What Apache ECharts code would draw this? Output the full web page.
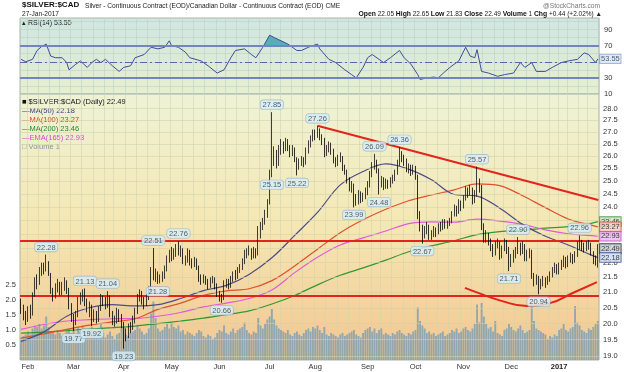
<!DOCTYPE html>
<html><head><meta charset="utf-8">
<script src="https://cdn.jsdelivr.net/npm/echarts@6/dist/echarts.min.js"></script>
<style>html,body{margin:0;padding:0;background:#fff}#c{width:624px;height:372px}</style>
</head><body><div id="c"></div>
<script>
// ---------- categories ----------
const holidays = ['2016-02-15','2016-03-25','2016-05-30','2016-07-04','2016-09-05','2016-11-24','2016-12-26','2017-01-02','2017-01-16'];
const firstDay = [2016, 0, 27], lastDay = [2017, 0, 27];
const monthNames = ['Jan','Feb','Mar','Apr','May','Jun','Jul','Aug','Sep','Oct','Nov','Dec'];
function tradingDays() {
  const out = [];
  let t = Date.UTC(firstDay[0], firstDay[1], firstDay[2]);
  const end = Date.UTC(lastDay[0], lastDay[1], lastDay[2]);
  while (t <= end) {
    const d = new Date(t), wd = d.getUTCDay(), s = d.toISOString().slice(0, 10);
    if (wd !== 0 && wd !== 6 && holidays.indexOf(s) < 0) out.push(s);
    t += 86400000;
  }
  return out;
}
const dates = tradingDays();

// ---------- daily candles [open, close, low, high] ----------
const candles = [
[20.70,20.45,20.30,20.80],[20.45,20.30,20.10,20.60],[20.30,20.15,19.95,20.40],
[20.15,20.40,20.05,20.55],[20.40,20.25,20.15,20.60],[20.30,20.90,20.25,21.00],[20.95,21.35,20.85,21.50],[21.35,21.30,21.10,21.60],
[21.30,21.70,21.25,21.85],[21.70,21.85,21.55,22.00],[21.85,21.80,21.60,22.00],[21.80,21.95,21.70,22.28],[21.95,21.75,21.55,22.05],
[21.60,21.05,20.95,21.65],[21.05,20.85,20.70,21.15],[20.85,21.10,20.80,21.30],[21.10,21.30,21.00,21.45],[21.30,21.00,20.90,21.35],
[21.00,21.20,20.90,21.35],[21.20,21.30,21.05,21.50],[21.30,21.05,20.95,21.40],[21.05,20.55,20.45,21.15],[20.55,20.15,20.05,20.65],
[20.15,20.00,19.77,20.30],[20.00,20.25,19.95,20.40],[20.25,20.75,20.20,20.85],[20.75,20.85,20.60,21.00],[20.85,20.95,20.70,21.10],
[20.95,20.70,20.55,21.13],[20.70,20.45,20.35,20.80],[20.45,20.55,20.20,20.70],[20.55,20.15,19.92,20.60],[20.15,20.30,20.05,20.45],
[20.30,20.10,20.00,20.40],[20.10,20.45,20.05,20.55],[20.45,20.80,20.40,20.95],[20.80,20.70,20.55,20.90],[20.70,20.60,20.45,20.85],
[20.60,20.85,20.50,21.04],[20.85,20.30,20.20,20.90],[20.30,20.05,19.95,20.40],[20.05,20.10,19.90,20.25],[20.10,20.35,20.00,20.50],
[20.35,20.20,20.05,20.45],[20.20,19.95,19.85,20.30],
[19.95,19.70,19.23,20.05],[19.70,19.65,19.45,19.85],[19.65,19.90,19.55,20.00],[19.90,19.85,19.70,20.05],[19.85,20.10,19.80,20.25],
[20.10,20.35,20.00,20.50],[20.35,20.80,20.30,20.95],[20.80,20.95,20.70,21.10],[20.95,20.75,20.60,21.05],[20.75,20.60,20.45,20.85],
[20.60,20.80,20.55,20.95],[20.80,21.05,20.75,21.20],[21.05,21.70,21.00,21.85],[21.70,21.55,21.40,22.51],[21.55,21.60,21.35,21.80],
[21.60,21.40,21.28,21.70],[21.40,21.45,21.30,21.60],[21.45,21.55,21.35,21.70],[21.55,21.75,21.45,21.90],[21.75,22.10,21.70,22.25],
[22.10,22.30,22.00,22.45],
[22.30,22.25,22.05,22.55],[22.25,22.35,22.10,22.50],[22.35,22.50,22.20,22.65],[22.50,22.40,22.25,22.76],[22.40,22.45,22.20,22.60],
[22.45,22.05,21.95,22.50],[22.05,22.10,21.90,22.25],[22.10,22.35,22.00,22.50],[22.35,22.00,21.90,22.45],[22.00,21.95,21.80,22.15],
[21.95,22.05,21.85,22.20],[22.05,21.85,21.75,22.15],[21.85,21.45,21.35,21.90],[21.45,21.40,21.25,21.60],[21.40,21.50,21.30,21.60],
[21.50,21.35,21.25,21.55],[21.35,21.25,21.10,21.45],[21.25,21.40,21.15,21.50],[21.40,21.45,21.30,21.55],[21.45,21.20,21.10,21.50],
[21.20,20.95,20.85,21.30],
[20.95,20.85,20.70,21.05],[20.85,20.80,20.66,20.95],[20.80,21.30,20.75,21.40],[21.30,21.35,21.15,21.45],[21.35,21.20,21.10,21.45],
[21.20,21.45,21.15,21.55],[21.45,21.60,21.35,21.70],[21.60,21.50,21.40,21.75],[21.50,21.75,21.45,21.85],[21.75,21.85,21.65,21.95],
[21.85,22.05,21.75,22.15],[22.05,22.25,21.95,22.45],[22.25,22.35,22.15,22.50],[22.35,22.45,22.25,22.60],[22.45,22.25,22.10,22.50],
[22.25,22.40,22.15,22.55],[22.40,22.30,22.15,22.50],[22.30,22.95,22.25,23.30],[22.95,23.30,22.85,23.45],[23.30,23.45,23.15,23.60],
[23.45,23.70,23.35,23.90],[23.70,24.15,23.60,24.30],
[24.15,25.30,24.10,25.45],[25.30,25.85,25.15,27.85],[25.85,26.10,25.60,26.40],[26.10,25.70,25.50,26.25],[25.70,26.20,25.60,26.45],
[26.20,26.50,26.05,26.70],[26.50,26.30,26.10,26.60],[26.30,26.60,26.20,26.75],[26.60,26.40,26.20,26.70],[26.40,26.10,25.95,26.45],
[26.10,26.30,26.00,26.45],[26.30,25.90,25.75,26.35],[25.90,25.60,25.22,25.95],[25.60,25.75,25.45,25.90],[25.75,25.85,25.60,26.00],
[25.85,25.70,25.55,25.95],[25.70,26.20,25.65,26.35],[26.20,26.50,26.10,26.65],[26.50,26.70,26.35,26.85],[26.70,26.95,26.60,27.10],
[26.95,26.85,26.65,27.10],[26.85,27.05,26.75,27.26],[27.05,26.80,26.65,27.15],[26.80,26.65,26.45,26.90],[26.65,26.10,25.95,26.75],
[26.10,26.30,26.00,26.45],[26.30,26.45,26.15,26.60],[26.45,26.20,26.05,26.55],[26.20,25.85,25.70,26.30],[25.85,25.70,25.55,25.95],
[25.70,25.90,25.60,26.05],[25.90,25.95,25.75,26.15],[25.95,25.55,25.40,26.00],[25.55,25.40,25.25,25.65],[25.40,25.05,24.90,25.45],
[25.05,24.75,24.60,25.15],[24.75,24.85,24.55,25.00],[24.85,24.35,23.99,24.90],[24.35,24.20,24.05,24.50],[24.20,24.50,24.10,24.65],
[24.50,24.30,24.15,24.60],[24.30,24.40,24.20,24.55],[24.40,24.60,24.30,24.75],
[24.60,24.85,24.45,25.00],[24.85,25.25,24.75,25.40],[25.25,25.60,25.15,25.75],[25.60,25.75,25.45,26.09],[25.75,25.45,25.30,25.85],
[25.45,24.90,24.48,25.50],[24.90,25.05,24.75,25.20],[25.05,24.80,24.65,25.15],[24.80,24.95,24.70,25.10],[24.95,24.85,24.70,25.05],
[24.85,25.00,24.75,25.15],[25.00,25.10,24.90,25.25],[25.10,25.30,25.00,25.45],[25.30,25.70,25.25,25.85],[25.70,26.05,25.60,26.36],
[26.05,25.95,25.75,26.20],[25.95,25.80,25.60,26.05],[25.80,25.45,25.35,25.90],[25.45,25.55,25.30,25.70],[25.55,25.35,25.20,25.65],
[25.35,25.50,25.25,25.65],
[25.50,25.20,25.05,25.60],[25.20,23.70,23.55,25.25],[23.70,23.25,23.10,23.85],[23.25,23.05,22.67,23.35],[23.05,23.10,22.85,23.30],
[23.10,23.30,23.00,23.45],[23.30,22.95,22.80,23.35],[22.95,23.00,22.80,23.15],[23.00,23.15,22.90,23.30],[23.15,23.05,22.90,23.25],
[23.05,23.30,23.00,23.40],[23.30,23.25,23.10,23.45],[23.25,23.45,23.15,23.55],[23.45,23.35,23.20,23.55],[23.35,23.40,23.20,23.50],
[23.40,23.45,23.30,23.60],[23.45,23.70,23.40,23.85],[23.70,23.95,23.65,24.10],[23.95,23.80,23.65,24.05],[23.80,24.15,23.75,24.30],
[24.15,24.00,23.85,24.25],
[24.00,24.30,23.95,24.45],[24.30,24.60,24.25,24.80],[24.60,24.55,24.35,24.75],[24.55,24.70,24.45,24.85],[24.70,24.25,24.10,24.75],
[24.25,24.50,24.15,24.65],[24.50,24.90,24.40,25.57],[24.90,24.80,24.55,25.10],[24.80,23.30,23.15,24.85],[23.30,22.85,22.70,23.40],
[22.85,23.00,22.70,23.15],[23.00,22.75,22.60,23.05],[22.75,22.55,22.40,22.85],[22.55,22.35,22.20,22.65],[22.35,22.60,22.25,22.75],
[22.60,22.70,22.50,22.85],[22.70,22.25,22.10,22.75],[22.25,22.50,22.15,22.60],[22.50,22.70,22.40,22.85],[22.70,22.45,22.30,22.80],
[22.45,22.05,21.71,22.55],
[22.05,22.10,21.85,22.30],[22.10,22.30,22.00,22.45],[22.30,22.40,22.15,22.55],[22.40,22.55,22.30,22.90],[22.55,22.45,22.25,22.70],
[22.45,22.60,22.30,22.75],[22.60,22.20,22.05,22.65],[22.20,22.30,22.05,22.45],[22.30,22.35,22.15,22.50],[22.35,21.55,21.45,22.45],
[21.55,21.35,21.20,21.65],[21.35,21.45,21.25,21.60],[21.45,21.25,20.94,21.55],[21.25,21.30,21.10,21.45],[21.30,21.40,21.20,21.55],
[21.40,21.30,21.15,21.50],[21.30,21.45,21.25,21.55],[21.45,21.60,21.35,21.70],[21.60,21.75,21.50,21.85],[21.75,21.90,21.65,22.00],
[21.90,21.70,21.60,21.95],
[21.70,21.85,21.60,22.00],[21.85,21.95,21.75,22.10],[21.95,22.10,21.85,22.25],[22.10,21.90,21.80,22.20],[21.90,22.10,21.85,22.25],
[22.10,22.20,22.00,22.35],[22.20,22.05,21.95,22.30],[22.05,22.25,22.00,22.40],[22.25,22.60,22.20,22.75],[22.60,22.70,22.45,22.96],
[22.70,22.55,22.40,22.80],[22.55,22.50,22.35,22.70],[22.50,22.60,22.40,22.75],[22.60,22.65,22.45,22.80],[22.65,22.35,22.25,22.70],
[22.35,22.10,21.95,22.40],[22.10,22.05,21.90,22.25],[22.05,22.49,21.83,22.65]
];

// ---------- volume ----------
const volumes = [
0.75,0.80,0.85,
0.95,0.85,1.05,1.15,1.10,1.20,1.05,1.15,1.45,1.10,0.95,0.90,0.85,1.00,0.90,0.80,0.85,0.95,1.05,0.90,
1.00,0.85,1.10,0.95,1.15,1.05,0.90,1.00,1.10,0.85,0.80,0.95,1.20,0.90,0.75,0.85,0.95,0.80,0.70,0.85,0.90,1.05,
1.10,0.85,0.80,0.90,0.95,1.00,1.15,1.05,0.95,0.85,0.90,1.05,1.55,1.95,1.40,1.05,0.95,1.00,1.10,1.20,1.05,
1.25,1.10,1.05,1.15,0.95,1.00,0.85,0.95,0.90,0.85,0.80,0.90,1.00,0.95,0.80,0.75,0.85,0.80,0.70,0.75,0.90,
1.00,0.95,1.15,0.90,0.85,0.95,1.05,0.90,1.00,1.05,1.10,1.25,1.00,0.90,0.85,0.95,0.90,1.40,1.15,1.05,1.20,1.35,
1.45,1.70,1.35,1.15,1.05,1.00,0.95,0.90,1.00,0.85,0.80,0.90,0.95,0.85,0.80,0.90,1.00,1.05,0.95,1.10,
1.05,1.15,1.00,0.90,1.10,0.85,0.80,0.90,0.85,0.80,0.75,0.85,0.90,0.80,0.85,0.90,0.95,1.00,0.85,0.80,0.75,0.90,1.00,
1.05,1.10,0.95,1.05,0.90,1.00,1.05,0.85,0.90,0.85,0.80,0.90,0.85,0.95,1.00,0.90,0.85,0.80,0.90,0.85,0.95,
1.00,1.75,1.30,1.15,1.05,0.90,0.95,0.85,0.90,0.80,0.85,0.90,0.95,0.80,0.85,0.90,1.00,0.95,1.05,0.90,0.95,
1.05,1.10,1.00,0.95,1.05,1.20,1.85,1.25,1.90,1.45,1.20,1.05,1.10,0.95,1.30,0.90,0.85,0.80,1.00,1.05,1.20,
1.10,1.00,0.95,1.05,1.15,1.00,0.90,0.95,1.00,1.85,1.30,1.05,1.00,0.95,0.90,0.85,0.70,0.80,0.75,0.85,0.80,
1.00,1.05,1.20,1.00,0.95,1.05,1.10,1.80,1.25,1.15,1.00,0.95,0.90,1.05,1.00,1.10,1.20,1.30
];

// ---------- moving averages (read every 10 sessions) ----------
const maIdx  = [0,10,20,30,40,50,60,70,80,90,100,110,120,130,140,150,160,170,180,190,200,210,220,230,240,250,253];
const ma50   = [19.45,19.74,20.23,20.50,20.60,20.56,20.60,20.80,21.06,21.23,21.60,22.17,22.96,23.80,24.85,25.38,25.68,25.47,25.05,24.48,24.42,23.96,23.36,22.93,22.62,22.27,22.18];
const ma100  = [19.55,19.68,19.82,19.95,20.05,20.15,20.45,20.65,20.90,21.05,21.12,21.39,21.89,22.47,23.06,23.53,23.92,24.24,24.46,24.66,24.89,24.82,24.43,23.98,23.56,23.33,23.27];
const ma200  = [19.70,19.73,19.78,19.83,19.87,19.92,20.00,20.08,20.17,20.28,20.40,20.62,20.90,21.25,21.57,21.82,22.09,22.38,22.59,22.77,22.99,23.10,23.15,23.22,23.28,23.40,23.46];
const ema165 = [19.82,19.97,20.08,20.12,20.15,20.16,20.23,20.35,20.53,20.65,20.80,21.08,21.66,22.19,22.62,22.87,23.12,23.39,23.45,23.44,23.55,23.48,23.36,23.16,23.02,22.95,22.93];

// ---------- RSI(14) ----------
const rsiIdx = [0,2,5,7,9,11,13,15,18,20,21,24,26,29,31,33,35,37,40,43,45,48,50,54,57,60,63,65,66,69,72,74,79,82,86,89,92,94,98,101,103,106,109,111,114,117,121,123,126,130,131,135,138,142,145,147,150,152,154,157,159,162,166,168,171,174,175,178,181,183,186,189,192,195,197,199,200,202,205,209,212,216,219,221,224,226,230,233,237,240,244,247,249,252,253];
const rsiVal = [53,50,53,64,69,72,57,55,55,49,40,47,51,43,49,53,49,53,45,38,43,45,55,59,68,66,68,76,70,68,62,55,51,45,36,40,55,64,66,59,55,68,83,80,76,72,64,64,68,72,66,53,49,40,34,30,43,55,59,53,49,55,64,55,47,34,28,30,31,30,38,45,51,68,57,55,65,38,36,32,34,36,49,43,49,38,38,43,49,51,53,61,59,49,53.55];
const rsiHotIdx = [106.4,109,111,114,117,118];
const rsiHotVal = [70,83,80,76,72,70];
const rsiTicks = [10,30,70,90];

// ---------- annotations ----------
const highNotes = [[11,22.28],[28,21.13],[38,21.04],[58,22.51],[69,22.76],[110,27.85],[130,27.26],[155,26.09],[166,26.36],[200,25.57],[218,22.90],[245,22.96]];
const lowNotes  = [[23,19.77],[31,19.92],[45,19.23],[60,21.28],[88,20.66],[110,25.15],[121,25.22],[146,23.99],[157,24.48],[176,22.67],[214,21.71],[227,20.94]];
const priceTicks = [19.0,19.5,20.0,20.5,21.0,21.5,22.0,22.5,23.0,23.5,24.0,24.5,25.0,25.5,26.0,26.5,27.0,27.5,28.0];
const volTicks = [0.5,1.0,1.5,2.0,2.5];
const levelLines = [22.78, 20.89];
const trendIdx = [130, 253.2];
const trendVal = [27.26, 24.27];
const arcIdx = [194.7,199.9,210.0,221.9,232.0,242.0,252.6];
const arcVal = [21.15,21.00,20.74,20.56,20.65,20.98,21.34];
const lastTags = [23.46, 23.27, 22.93, 22.49, 22.18];
const lastTagStyle = [
  {bg:'#cdebc8', bd:'#2e8b2e'}, {bg:'#f4cfc4', bd:'#d23a2a'}, {bg:'#e7b6ec', bd:'#c040c8'},
  {bg:'#c9d1d4', bd:'#111'}, {bg:'#cbd9f2', bd:'#34438f'}
];

// ---------- helpers ----------
const pairs = (xs, ys) => xs.map((x, i) => [x, ys[i]]);
const monthStart = new Set(), weekStart = new Set();
dates.forEach((d, i) => {
  if (i === 0) return;
  if (d.slice(5, 7) !== dates[i - 1].slice(5, 7)) monthStart.add(i);
  const wd = new Date(d + 'T00:00:00Z').getUTCDay(), pw = new Date(dates[i - 1] + 'T00:00:00Z').getUTCDay();
  if (wd < pw) weekStart.add(i);
});
const FONT = 'Liberation Sans, Arial, sans-serif';
const N = dates.length;

const chart = echarts.init(document.getElementById('c'), null, {renderer: 'canvas'});
const grad = (stops) => new echarts.graphic.LinearGradient(0, 0, 0, 1, stops.map((c, i) => ({offset: i / (stops.length - 1), color: c})));
const noteLabel = (pos) => ({
  show: true, position: pos, distance: 3, formatter: p => p.value[1].toFixed(2),
  fontSize: 7.5, fontFamily: FONT, color: '#1d3550', backgroundColor: '#d9eef6',
  borderColor: '#8fb3c6', borderWidth: 0.6, borderRadius: 3, padding: [1, 2, 0, 2]
});
const maSeries = (name, vals, color) => ({
  name, type: 'line', xAxisIndex: 2, yAxisIndex: 1, data: pairs(maIdx, vals), smooth: 0.35,
  symbol: 'none', lineStyle: {color, width: 1.2}, z: 4, silent: true
});

const option = {
  animation: false,
  backgroundColor: '#fff',
  grid: [
    {left: 20, right: 25, top: 18, height: 76, show: true, borderColor: '#a9b4a9', borderWidth: 1,
     backgroundColor: grad(['#cfe6e2', '#e7efcf'])},
    {left: 20, right: 25, top: 94, bottom: 12, show: true, borderColor: '#a9b4a9', borderWidth: 1,
     backgroundColor: grad(['#eef3d6', '#f5e7b3', '#f3c58f'])}
  ],
  xAxis: [
    {type: 'category', gridIndex: 0, data: dates, boundaryGap: true,
     axisLine: {show: false}, axisTick: {show: false}, axisLabel: {show: false},
     splitLine: {show: true, interval: (i) => weekStart.has(i), lineStyle: {color: '#bcd2c6', width: 0.6}}},
    {type: 'category', gridIndex: 1, data: dates, boundaryGap: true,
     axisLine: {show: false}, axisTick: {show: false},
     axisLabel: {interval: (i) => monthStart.has(i), fontSize: 7.5, fontFamily: FONT, color: '#333', margin: 3,
       formatter: (v) => v.slice(5, 7) === '01' ? '{y|' + v.slice(0, 4) + '}' : monthNames[+v.slice(5, 7) - 1],
       rich: {y: {fontWeight: 'bold', fontSize: 7.5, fontFamily: FONT, color: '#222'}}},
     splitLine: {show: true, interval: (i) => weekStart.has(i), lineStyle: {color: '#d3d3b0', width: 0.6}}},
    {type: 'value', gridIndex: 1, min: -0.5, max: N - 0.5, show: false},
    {type: 'value', gridIndex: 0, min: -0.5, max: N - 0.5, show: false}
  ],
  yAxis: [
    {type: 'value', gridIndex: 0, position: 'right', min: 10, max: 104.3, interval: 10,
     axisLine: {show: false}, axisTick: {show: false},
     axisLabel: {fontSize: 7.5, fontFamily: FONT, color: '#333', margin: 5,
       formatter: (v) => rsiTicks.indexOf(v) >= 0 ? String(v) : ''},
     splitLine: {show: true, lineStyle: {color: '#bcd2c6', width: 0.6}}},
    {type: 'log', gridIndex: 1, position: 'right', logBase: 10, min: 18.89, max: 28.652,
     axisLine: {show: false}, axisTick: {show: false}, axisLabel: {show: false}, splitLine: {show: false}},
    {type: 'value', gridIndex: 1, position: 'left', min: 0, max: 8.867, interval: 0.5,
     axisLine: {show: false}, axisTick: {show: false}, splitLine: {show: false},
     axisLabel: {fontSize: 7.5, fontFamily: FONT, color: '#333', margin: 4,
       formatter: (v) => volTicks.some(t => Math.abs(t - v) < 1e-6) ? v.toFixed(1) : ''}}
  ],
  series: [
    // price gridlines + right labels
    {type: 'line', xAxisIndex: 2, yAxisIndex: 1, data: [], silent: true,
     markLine: {silent: true, symbol: 'none', animation: false,
       lineStyle: {color: '#d4d1a8', width: 0.6, type: 'solid'},
       label: {show: true, position: 'end', distance: 4, fontSize: 7.5, fontFamily: FONT, color: '#333',
               formatter: p => Number(p.value).toFixed(1)},
       data: priceTicks.map(v => ({yAxis: v}))}},
    // volume
    {name: 'Volume', type: 'bar', xAxisIndex: 1, yAxisIndex: 2, data: volumes, barCategoryGap: '18%',
     itemStyle: {color: 'rgba(128,160,178,0.85)'}, silent: true, z: 1},
    // moving averages
    maSeries('MA(200)', ma200, '#2f9a2f'),
    maSeries('EMA(165)', ema165, '#e25ad8'),
    maSeries('MA(100)', ma100, '#e0502c'),
    maSeries('MA(50)', ma50, '#4d4d86'),
    // candles
    {name: 'Price', type: 'candlestick', xAxisIndex: 1, yAxisIndex: 1, data: candles, barMaxWidth: 2,
     itemStyle: {color: 'rgba(0,0,0,0)', color0: '#000', borderColor: '#111', borderColor0: '#000', borderWidth: 0.8},
     silent: true, z: 5},
    // horizontal red support / resistance lines
    {type: 'line', xAxisIndex: 2, yAxisIndex: 1, data: [], silent: true, z: 6,
     markLine: {silent: true, symbol: 'none', animation: false, label: {show: false},
       lineStyle: {color: '#e3241c', width: 2, type: 'solid'}, data: levelLines.map(v => ({yAxis: v}))}},
    // falling trend line with arrow
    {type: 'line', xAxisIndex: 2, yAxisIndex: 1, data: [], silent: true, z: 6,
     markLine: {silent: true, symbol: ['none', 'arrow'], symbolSize: [0, 11], animation: false, label: {show: false},
       lineStyle: {color: '#e3241c', width: 2, type: 'solid'},
       data: [[{coord: [trendIdx[0], trendVal[0]]}, {coord: [trendIdx[1], trendVal[1]]}]]}},
    // rounded base arc
    {type: 'line', xAxisIndex: 2, yAxisIndex: 1, data: pairs(arcIdx, arcVal), smooth: 0.5, symbol: 'none',
     lineStyle: {color: '#e3241c', width: 2}, silent: true, z: 6},
    // price notes
    {type: 'scatter', xAxisIndex: 2, yAxisIndex: 1, data: highNotes, symbolSize: 0, label: noteLabel('top'), silent: true, z: 8},
    {type: 'scatter', xAxisIndex: 2, yAxisIndex: 1, data: lowNotes, symbolSize: 0, label: noteLabel('bottom'), silent: true, z: 8},
    // last value tags
    {type: 'scatter', xAxisIndex: 2, yAxisIndex: 1, symbolSize: 0, silent: true, z: 9,
     data: lastTags.map((v, i) => ({value: [N - 0.5, v], label: {backgroundColor: lastTagStyle[i].bg, borderColor: lastTagStyle[i].bd}})),
     label: {show: true, position: 'right', distance: 1, formatter: p => p.value[1].toFixed(2), fontSize: 7.5, fontFamily: FONT,
       color: '#111', borderWidth: 0.8, padding: [1, 1, 0, 1]}},
    // RSI hot area
    {type: 'line', xAxisIndex: 3, yAxisIndex: 0, data: pairs(rsiHotIdx, rsiHotVal), symbol: 'none',
     lineStyle: {width: 0}, areaStyle: {color: '#4aa7ad', opacity: 0.9, origin: 70}, silent: true, z: 2},
    // RSI line
    {name: 'RSI', type: 'line', xAxisIndex: 3, yAxisIndex: 0, data: pairs(rsiIdx, rsiVal), symbol: 'none',
     lineStyle: {color: '#3e4d99', width: 1}, silent: true, z: 4,
     markLine: {silent: true, symbol: 'none', animation: false, label: {show: false},
       data: [
         {yAxis: 70, lineStyle: {color: '#7483c4', width: 2, type: 'solid'}},
         {yAxis: 30, lineStyle: {color: '#7483c4', width: 2, type: 'solid'}},
         {yAxis: 50, lineStyle: {color: '#5a67a8', width: 1, type: [7, 3, 2, 3]}}
       ]}},
    {type: 'scatter', xAxisIndex: 3, yAxisIndex: 0, symbolSize: 0, silent: true, z: 9,
     data: [[N - 0.5, 53.55]],
     label: {show: true, position: 'right', distance: 1, formatter: '53.55', fontSize: 7.5, fontFamily: FONT, color: '#1d3550',
       backgroundColor: '#d7e6f6', borderColor: '#6f86c0', borderWidth: 0.6, padding: [1, 1, 0, 1]}}
  ],
  graphic: [
    {type: 'text', x: 22, y: 1, style: {text: '$SILVER:$CAD', font: 'bold 8px ' + FONT, fill: '#111'}},
    {type: 'text', x: 85, y: 2.5, style: {text: 'Silver - Continuous Contract (EOD)/Canadian Dollar - Continuous Contract (EOD) CME', font: '6.6px ' + FONT, fill: '#222'}},
    {type: 'text', x: 600, y: 2.5, style: {text: '@StockCharts.com', font: '6.6px ' + FONT, fill: '#777', align: 'right'}},
    {type: 'text', x: 22, y: 11, style: {text: '27-Jan-2017', font: '6.6px ' + FONT, fill: '#222'}},
    {type: 'text', x: 602, y: 11, style: {
      text: '{b|Open} 22.05 {b|High} 22.65 {b|Low} 21.83 {b|Close} 22.49 {b|Volume} 1 {b|Chg} +0.44 (+2.02%) \u25B2',
      font: '6.5px ' + FONT, fill: '#222', align: 'right',
      rich: {b: {font: 'bold 6.8px ' + FONT, fill: '#111'}}}},
    {type: 'text', x: 22, y: 20, style: {text: '\u25B4 RSI(14) 53.55', font: '7px ' + FONT, fill: '#222'}},
    {type: 'text', x: 22, y: 98, style: {text: '\u25A0 $SILVER:$CAD (Daily) 22.49', font: '7.5px ' + FONT, fill: '#111'}},
    {type: 'text', x: 22, y: 107, style: {text: '\u2014MA(50) 22.18', font: '7.5px ' + FONT, fill: '#3b3b8f'}},
    {type: 'text', x: 22, y: 116, style: {text: '\u2014MA(100) 23.27', font: '7.5px ' + FONT, fill: '#d83a22'}},
    {type: 'text', x: 22, y: 125, style: {text: '\u2014MA(200) 23.46', font: '7.5px ' + FONT, fill: '#23862a'}},
    {type: 'text', x: 22, y: 134, style: {text: '\u2014EMA(165) 22.93', font: '7.5px ' + FONT, fill: '#d845d0'}},
    {type: 'text', x: 22, y: 143, style: {text: '\u25A1 Volume 1', font: '7.5px ' + FONT, fill: '#7f98a6'}}
  ]
};
chart.setOption(option);
</script>
</body></html>
